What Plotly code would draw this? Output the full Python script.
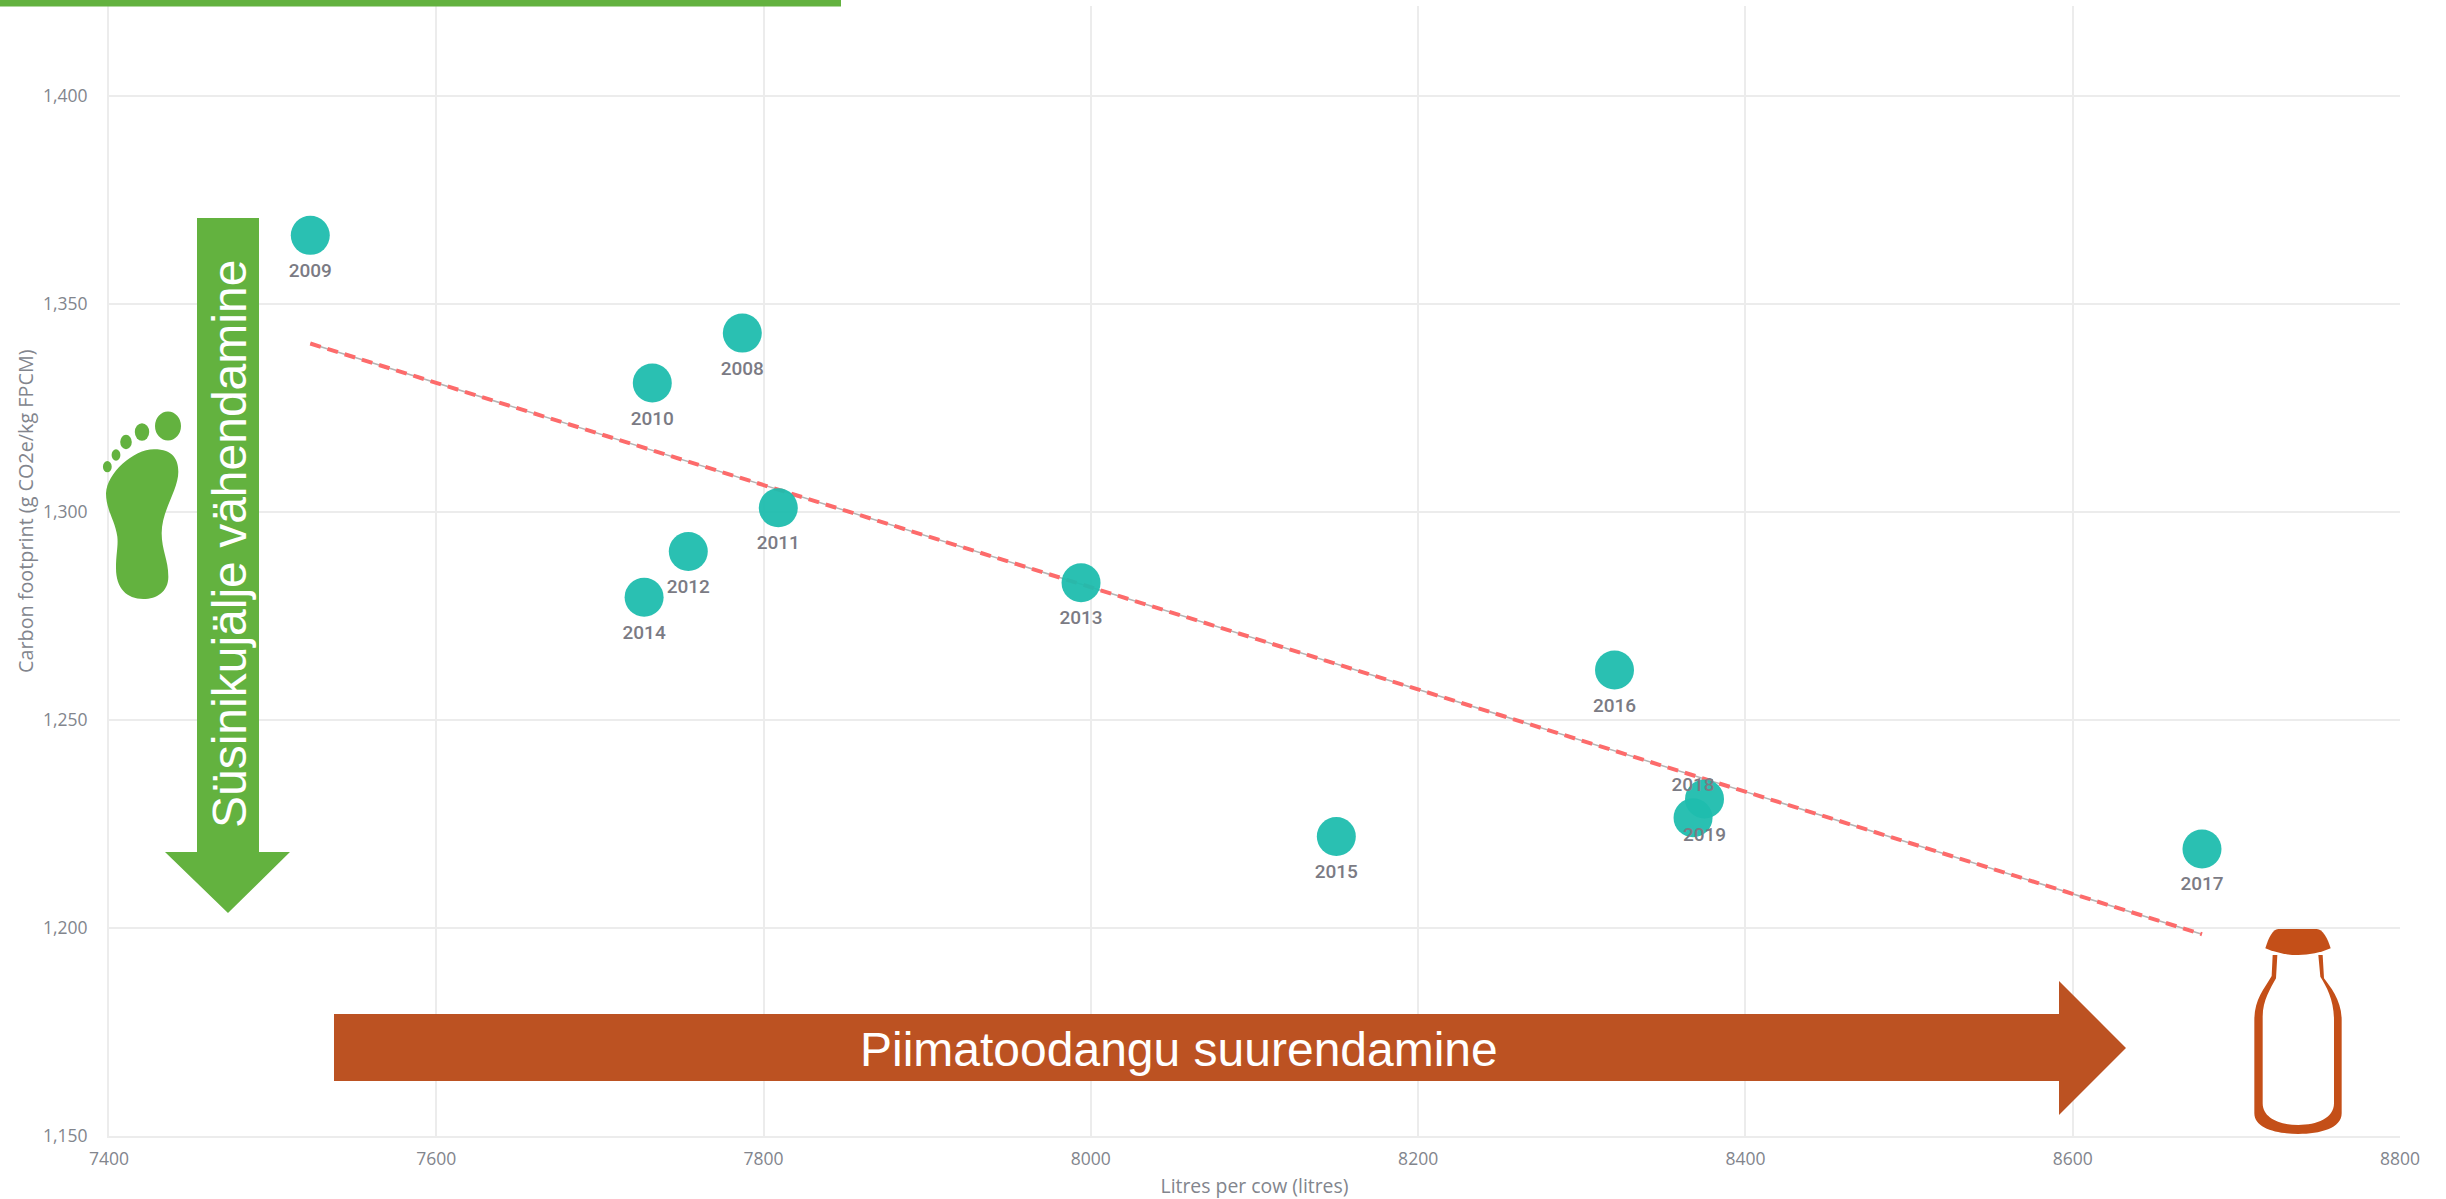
import plotly.graph_objects as go

years = ["2008", "2009", "2010", "2011", "2012", "2013", "2014", "2015", "2016", "2017", "2018", "2019"]
litres = [7787, 7523, 7732, 7809, 7754, 7994, 7727, 8150, 8320, 8679, 8368, 8375]
carbon = [1343, 1366.5, 1331, 1301, 1290.5, 1283, 1279.5, 1222, 1262, 1219, 1226.5, 1231]
label_pos = ["bottom center"] * 10 + ["top center", "bottom center"]
trend_x = [7523, 8679]
trend_y = [1340.5, 1198.5]
x_ticks = [7400, 7600, 7800, 8000, 8200, 8400, 8600, 8800]
y_ticks = [1150, 1200, 1250, 1300, 1350, 1400]

W, H = 2446, 1199
L, R, T, B = 109, 2400, 6, 1136
Y_TOP = 1150 + (B - T) / 4.16
GREEN = "#63B23F"
RUST = "#BC5222"
BOTTLE = "#C44F18"
GREY = "#82858d"


def px(x):
    return (x - L) / (R - L)


def py(y):
    return (B - y) / (B - T)


def path(cmds):
    out = []
    for c in cmds:
        if isinstance(c, str):
            out.append(c)
        else:
            out.append(f"{px(c[0]):.5f},{py(c[1]):.5f}")
    return " ".join(out)


def shape(cmds, color):
    return dict(type="path", xref="paper", yref="paper", path=path(cmds),
                fillcolor=color, line=dict(width=0), layer="above")


def ellipse(cx, cy, rx, ry, color):
    return dict(type="circle", xref="paper", yref="paper", x0=px(cx - rx), x1=px(cx + rx),
                y0=py(cy + ry), y1=py(cy - ry), fillcolor=color, line=dict(width=0), layer="above")


def foot(x, y):
    return (x / 3, 180 + y / 3)


def bot(x, y):
    return (2150 + x / 3, 850 + y / 3)


shapes = [
    shape(["M", (0, 0), "L", (841, 0), "L", (841, 6.5), "L", (0, 6.5), "Z"], GREEN),
    shape(["M", (197, 218), "L", (259, 218), "L", (259, 852), "L", (290, 852), "L", (228, 913),
           "L", (165, 852), "L", (197, 852), "Z"], GREEN),
    shape(["M", (334, 1014), "L", (2059, 1014), "L", (2059, 981), "L", (2126, 1048), "L", (2059, 1115),
           "L", (2059, 1081), "L", (334, 1081), "Z"], RUST),
    shape(["M", foot(318, 940), "C", foot(320, 880), foot(400, 808), foot(462, 808),
           "C", foot(520, 808), foot(535, 840), foot(535, 875),
           "C", foot(535, 930), foot(485, 990), foot(485, 1060),
           "C", foot(485, 1110), foot(505, 1140), foot(505, 1190),
           "C", foot(505, 1235), foot(470, 1257), foot(430, 1257),
           "C", foot(380, 1257), foot(348, 1225), foot(348, 1165),
           "C", foot(348, 1120), foot(355, 1100), foot(352, 1070),
           "C", foot(345, 1020), foot(318, 990), foot(318, 940), "Z"], GREEN),
    shape(["M", bot(346, 295), "C", bot(355, 265), bot(368, 237), bot(385, 237),
           "L", bot(500, 237), "C", bot(518, 237), bot(533, 265), bot(542, 295),
           "C", bot(480, 322), bot(410, 322), bot(346, 295), "Z"], BOTTLE),
    shape(["M", bot(368, 315), "L", bot(365, 378), "C", bot(340, 420), bot(313, 450), bot(313, 510),
           "L", bot(313, 790), "C", bot(313, 835), bot(380, 852), bot(445, 852),
           "C", bot(510, 852), bot(575, 835), bot(575, 790),
           "L", bot(575, 510), "C", bot(575, 450), bot(540, 410), bot(522, 385),
           "L", bot(518, 315), "L", bot(505, 315), "L", bot(511, 380),
           "C", bot(530, 410), bot(552, 450), bot(552, 510),
           "L", bot(552, 760), "C", bot(552, 805), bot(500, 825), bot(445, 825),
           "C", bot(390, 825), bot(338, 805), bot(338, 760),
           "L", bot(338, 500), "C", bot(338, 450), bot(362, 415), bot(378, 385),
           "L", bot(382, 315), "Z"], BOTTLE),
    ellipse(*foot(504, 738), 13, 14.5, GREEN),
    ellipse(*foot(426, 756), 7.2, 8.8, GREEN),
    ellipse(*foot(378, 786), 5.8, 7.2, GREEN),
    ellipse(*foot(348, 825), 4.4, 5.8, GREEN),
    ellipse(*foot(322, 860), 4.4, 5.6, GREEN),
]

fig = go.Figure()
fig.add_trace(go.Scatter(x=trend_x, y=trend_y, mode="lines", showlegend=False, hoverinfo="skip",
                         line=dict(color="#b5b5b5", width=1.5)))
fig.add_trace(go.Scatter(x=trend_x, y=trend_y, mode="lines", showlegend=False, hoverinfo="skip",
                         line=dict(color="#FD6B6B", width=4, dash="11px,7px")))
fig.add_trace(go.Scatter(x=litres, y=carbon, mode="markers", showlegend=False,
                         marker=dict(size=39, color="#1FBDAE", opacity=0.95, line=dict(width=0))))
# Labels sit on transparent markers so their gap from the point matches the reference.
fig.add_trace(go.Scatter(x=litres, y=carbon, text=years, mode="markers+text", showlegend=False,
                         hoverinfo="skip", textposition=label_pos,
                         textfont=dict(family="Roboto", size=19, color="#7b7b84", weight=500),
                         marker=dict(size=[33 if p.startswith("top") else 42 for p in label_pos],
                                     color="rgba(0,0,0,0)", line=dict(width=0))))

annotations = [
    dict(text="Süsinikujälje vähendamine", xref="paper", yref="paper", x=px(229), y=py(544), textangle=-90,
         showarrow=False, xanchor="center", yanchor="middle",
         font=dict(family="Liberation Sans", size=48, color="white")),
    dict(text="Piimatoodangu suurendamine", xref="paper", yref="paper", x=px(1179), y=py(1049),
         showarrow=False, xanchor="center", yanchor="middle",
         font=dict(family="Liberation Sans", size=48, color="white")),
    dict(text="Carbon footprint (g CO2e/kg FPCM)", xref="paper", yref="paper", x=px(25), y=py(511),
         textangle=-90, showarrow=False, xanchor="center", yanchor="middle",
         font=dict(family="Open Sans", size=19.8, color=GREY)),
]

fig.update_layout(
    width=W, height=H, autosize=False,
    margin=dict(l=L, r=W - R, t=T, b=H - B, pad=0),
    paper_bgcolor="white", plot_bgcolor="white", showlegend=False,
    shapes=shapes, annotations=annotations,
)
fig.update_xaxes(range=[7400, 8800], tickvals=x_ticks, ticktext=[str(v) for v in x_ticks],
                 showgrid=True, gridcolor="#ececec", gridwidth=2, zeroline=False,
                 showline=True, linecolor="#ececec", linewidth=2, ticks="", automargin=False,
                 tickfont=dict(family="Open Sans", size=17.5, color=GREY), ticklabelstandoff=6,
                 title=dict(text="Litres per cow (litres)", standoff=12,
                            font=dict(family="Open Sans", size=19.4, color=GREY)))
fig.update_yaxes(range=[1150, Y_TOP], tickvals=y_ticks, ticktext=[f"{v:,}" for v in y_ticks],
                 showgrid=True, gridcolor="#ececec", gridwidth=2, zeroline=False,
                 showline=True, linecolor="#ececec", linewidth=2, ticks="", automargin=False,
                 tickfont=dict(family="Open Sans", size=17.5, color=GREY), ticklabelstandoff=16)

fig.write_html("out.html", config=dict(displayModeBar=False),
               post_script="document.body.style.margin='0';")
